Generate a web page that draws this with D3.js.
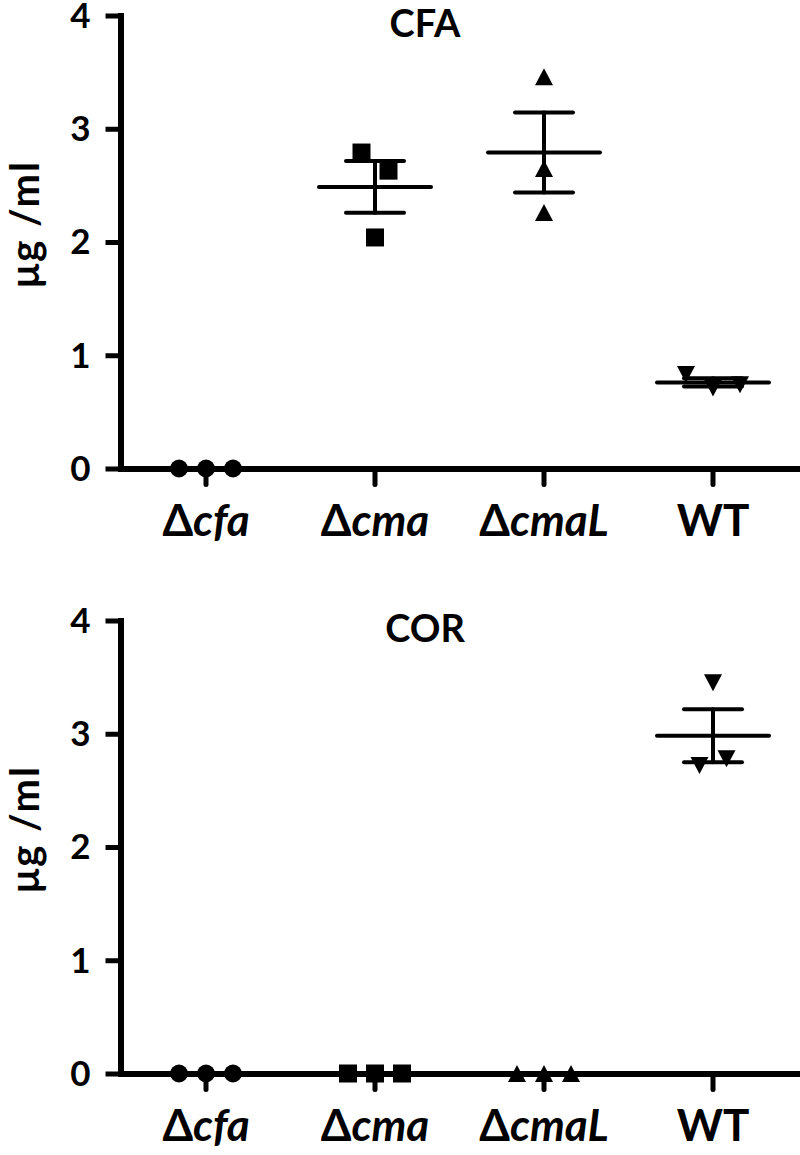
<!DOCTYPE html>
<html>
<head>
<meta charset="utf-8">
<script src="https://cdn.jsdelivr.net/npm/d3@7"></script>
<style>
	body { margin: 0; background: #fff; }
	svg { display: block; }
	text { font-family: Lato, 'Open Sans', sans-serif; font-weight: bold; fill: #000; }
</style>
</head>
<body>
<div id="chart"></div>
<script>
// Data (three replicates per strain)
const strains = ['cfa', 'cma', 'cmaL', 'WT'];
const strainPrefix = ['Δ', 'Δ', 'Δ', ''];
const panelTitles = ['CFA', 'COR'];
const cfaValues = [[0, 0, 0], [2.79, 2.63, 2.04], [3.46, 2.65, 2.26], [0.83, 0.71, 0.74]];
const corValues = [[0, 0, 0], [0, 0, 0], [0, 0, 0], [3.45, 2.72, 2.78]];
const yTicks = [0, 1, 2, 3, 4];
const yLabel = 'μg /ml';

const width = 800;
const height = 1155;
const panelOffset = 605;
const markerSize = 18;
const jitterStep = 27;

const svg = d3.select('#chart')
	.append('svg')
	.attr('width', width)
	.attr('height', height)
	.attr('viewBox', [0, 0, width, height]);

const x = d3.scaleBand()
	.domain(strains)
	.range([121.5, 797.5]);

// marker shapes per strain: circle, square, triangle up, triangle down
function markerPath(i) {
	const r = markerSize / 2;
	if (i === 0) return d3.symbol(d3.symbolCircle, Math.PI * r * r)();
	if (i === 1) return d3.symbol(d3.symbolSquare, markerSize * markerSize)();
	const w = 9, h = 8.5;
	if (i === 2) return 'M0,' + -h + 'L' + w + ',' + h + 'L' + -w + ',' + h + 'Z';
	return 'M0,' + h + 'L' + w + ',' + -h + 'L' + -w + ',' + -h + 'Z';
}

// spread overlapping points sideways, keeping their data order
function swarm(vals, pxPerUnit) {
	const idx = d3.range(vals.length).sort((a, b) => vals[a] - vals[b]);
	const offsets = vals.map(() => 0);
	let cluster = [idx[0]];
	const flush = () => {
		cluster.sort((a, b) => a - b);
		cluster.forEach((k, i) => (offsets[k] = (i - (cluster.length - 1) / 2) * jitterStep));
	};
	for (let i = 1; i < idx.length; i++) {
		if ((vals[idx[i]] - vals[idx[i - 1]]) * pxPerUnit < 20) {
			cluster.push(idx[i]);
		} else {
			flush();
			cluster = [idx[i]];
		}
	}
	flush();
	return offsets;
}

function drawPanel(values, title, top) {
	const g = svg.append('g').attr('transform', 'translate(0,' + top + ')');

	const y = d3.scaleLinear()
		.domain([0, 4])
		.range([468.5, 15.5]);
	const pxPerUnit = y(0) - y(1);

	// y axis
	const yAxis = g.append('g')
		.attr('transform', 'translate(120.5,0)')
		.call(d3.axisLeft(y)
			.tickValues(yTicks)
			.tickFormat(d3.format('d'))
			.tickSize(15)
			.tickSizeOuter(0)
			.tickPadding(15));
	yAxis.select('.domain').attr('stroke-width', 6).attr('stroke-linecap', 'square');
	yAxis.selectAll('.tick line').attr('stroke-width', 5);
	yAxis.selectAll('.tick text').style('font-size', '35px').attr('dy', '0.34em');

	// x axis
	const xAxis = g.append('g')
		.attr('transform', 'translate(0,' + y(0) + ')')
		.call(d3.axisBottom(x).tickSize(16).tickSizeOuter(0));
	xAxis.select('.domain').attr('stroke-width', 6).attr('stroke-linecap', 'square');
	xAxis.selectAll('.tick line').attr('stroke-width', 5).attr('stroke-linecap', 'round');
	xAxis.selectAll('.tick text')
		.text(null)
		.attr('y', 67)
		.attr('dy', null)
		.style('font-size', '44px')
		.each(function (d, i) {
			const t = d3.select(this);
			if (strainPrefix[i]) {
				t.append('tspan').text(strainPrefix[i]);
				t.append('tspan').style('font-style', 'italic').text(d);
			} else {
				t.append('tspan').text(d);
			}
		});

	// points
	values.forEach((vals, i) => {
		const cx = x(strains[i]) + x.bandwidth() / 2;
		const offs = swarm(vals, pxPerUnit);
		g.append('g')
			.selectAll('path')
			.data(vals)
			.enter()
			.append('path')
			.attr('d', markerPath(i))
			.attr('transform', (d, k) => 'translate(' + (cx + offs[k]) + ',' + y(d) + ')')
			.attr('fill', '#000');

		// mean and SEM
		const mean = d3.mean(vals);
		const sem = (d3.deviation(vals) || 0) / Math.sqrt(vals.length);
		const eb = g.append('g')
			.attr('stroke', '#000')
			.attr('stroke-width', 4)
			.attr('stroke-linecap', 'round');
		eb.append('line')
			.attr('x1', cx - 56).attr('x2', cx + 56)
			.attr('y1', y(mean)).attr('y2', y(mean));
		eb.append('line')
			.attr('x1', cx).attr('x2', cx)
			.attr('y1', y(mean + sem)).attr('y2', y(mean - sem));
		[mean + sem, mean - sem].forEach((v) => {
			eb.append('line')
				.attr('x1', cx - 29).attr('x2', cx + 29)
				.attr('y1', y(v)).attr('y2', y(v));
		});
	});

	// title
	g.append('text')
		.attr('x', 425)
		.attr('y', 37)
		.attr('text-anchor', 'middle')
		.style('font-size', '38px')
		.text(title);

	// y axis title
	g.append('text')
		.attr('transform', 'translate(39,224) rotate(-90)')
		.attr('text-anchor', 'middle')
		.style('font-size', '40px')
		.style('letter-spacing', '2px')
		.text(yLabel);
}

drawPanel(cfaValues, panelTitles[0], 0);
drawPanel(corValues, panelTitles[1], panelOffset);
</script>
</body>
</html>
